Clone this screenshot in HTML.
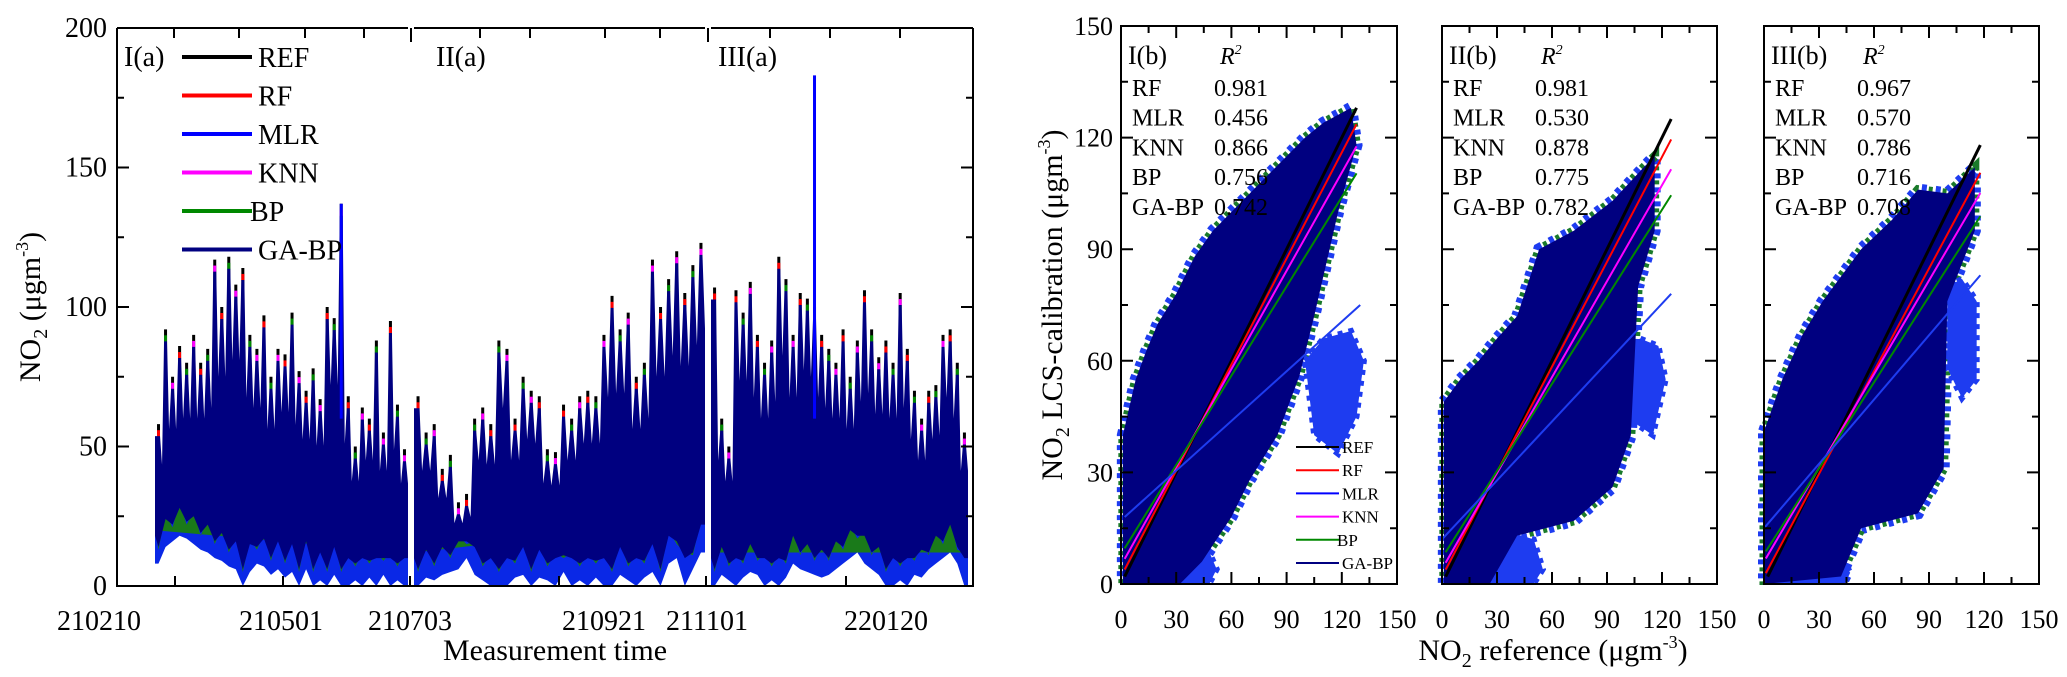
<!DOCTYPE html>
<html><head><meta charset="utf-8">
<style>
html,body{margin:0;padding:0;background:#fff;}
svg{display:block;}
svg text{font-family:"Liberation Serif",serif;}
</style></head>
<body>
<svg id="fig" width="2067" height="677" viewBox="0 0 2067 677" xmlns="http://www.w3.org/2000/svg" font-family="Liberation Serif, serif">
<g id="left"></g>
<g id="right"></g>
</svg>
<script>
// ===== Time series data (NO2, µg m-3), per-bin upper peaks (REF) and lower envelope =====
const seg1Peaks = [58,92,75,86,80,90,80,85,117,100,118,108,114,90,85,97,75,85,83,98,77,70,78,67,100,96,137,68,50,64,60,88,55,95,65,49];
const seg1Low   = [8,14,16,18,17,15,13,12,10,9,7,6,0,5,8,7,4,6,3,5,0,6,0,2,0,4,0,0,2,0,3,0,4,0,2,0];
const seg2Peaks = [68,55,58,42,47,30,33,60,64,58,88,85,60,75,70,68,49,48,65,60,68,70,68,90,104,92,98,75,80,117,100,110,120,105,115,123];
const seg2Low   = [0,3,2,4,5,6,10,4,2,0,0,0,3,4,0,3,2,0,5,0,2,0,3,0,0,4,2,0,3,5,0,8,10,0,6,12];
const seg3Peaks = [107,60,50,106,98,109,90,80,88,118,110,90,105,103,100,90,85,80,92,75,88,106,92,82,88,80,105,85,70,60,70,72,90,92,80,55];
const seg3Low   = [0,4,2,0,3,5,4,0,2,0,3,8,6,5,4,3,4,6,8,10,12,8,6,4,0,0,2,0,4,3,6,8,10,12,8,0];
const mlrSpikes = [[26,137,1],[14,183,3]]; // [bin, value, segment]
const yTicks = [0,50,100,150,200];
const xTickLabels = ["210210","210501","210703","210921","211101","220120"];
const xTickLabelPos = [99,281,410,604,707,886];
const legendNames = ["REF","RF","MLR","KNN","BP","GA-BP"];
const legendColors = ["#000","#f00","#00f","#f0f","#080","#000080"];

// ===== Scatter data per panel =====
const r2Models = ["RF","MLR","KNN","BP","GA-BP"];
const r2Panel1 = ["0.981","0.456","0.866","0.756","0.742"];
const r2Panel2 = ["0.981","0.530","0.878","0.775","0.782"];
const r2Panel3 = ["0.967","0.570","0.786","0.716","0.708"];
const blobUpper1 = [[1,40],[8,55],[14,63],[20,70],[30,78],[40,88],[50,95],[60,100],[70,105],[80,110],[90,115],[100,120],[110,124],[125,128]];
const blobLower1 = [[128,118],[118,100],[105,72],[97,56],[85,40],[70,28],[60,18],[44,6],[32,0],[1,0]];
const blobUpper2 = [[1,49],[10,55],[20,60],[30,66],[41,72],[53,90],[72,95],[93,103],[110,112],[116,115]];
const blobLower2 = [[116,95],[107,80],[103,40],[93,26],[72,17],[41,13],[26,0],[1,0]];
const blobUpper3 = [[0,41],[10,55],[21,67],[32,76],[53,90],[70,98],[84,106],[100,105],[115,112]];
const blobLower3 = [[115,95],[100,76],[98,31],[84,19],[53,15],[42,2],[0,0]];
const blueUpper1 = [[100,60],[110,66],[125,68],[132,60],[128,45],[118,35],[105,40]];
const blueLow1 = [[10,12],[25,15],[45,12],[52,4],[48,0],[12,0]];
const blueUpper2 = [[95,60],[108,66],[118,64],[122,55],[115,40],[100,45]];
const blueLow2 = [[15,12],[30,15],[50,12],[55,4],[50,0],[14,0]];
const blueUpper3 = [[100,80],[108,82],[116,76],[116,55],[108,50],[100,58]];
const blueLow3 = [[5,10],[20,12],[40,10],[47,3],[44,0],[5,0]];
const refMax = [128,125,118];
const rfLine = [[2,2,0.95],[2,2,0.94],[1,2,0.92]]; // [xStart, intercept, slope]
const knnLine = [[2,5,0.88],[2,4,0.86],[1,6,0.84]];
const bpLine = [[2,8,0.8],[2,7,0.78],[1,8,0.77]];
const mlrLine = [[2,18,130,75],[0,12,125,78],[0,15,118,83]];

const NS="http://www.w3.org/2000/svg";
function mk(tag,attrs,parent){const e=document.createElementNS(NS,tag);for(const k in attrs)e.setAttribute(k,attrs[k]);parent.appendChild(e);return e;}
function txt(parent,x,y,s,size,anchor){const t=mk('text',{x:x,y:y,'font-size':size,'text-anchor':anchor||'start','font-family':'Liberation Serif, serif'},parent);t.textContent=s;return t;}

// ---------- LEFT CHART ----------
const L=document.getElementById('left');
const X0=117,X1=973,Y0=586,Y1=28;
const yS=v=>Y0-(v/200)*(Y0-Y1);
const segs=[{p:seg1Peaks,l:seg1Low,a:155,b:408},{p:seg2Peaks,l:seg2Low,a:414,b:705},{p:seg3Peaks,l:seg3Low,a:711,b:968}];
segs.forEach((s,si)=>{
  const n=s.p.length,w=(s.b-s.a)/n;
  const xs=i=>s.a+w*(i+0.5);
  // colored under-band (blue/green)
  let band=`M${s.a},${yS(s.l[0]+14)} `;
  for(let i=0;i<n;i++)band+=`L${xs(i)},${yS(s.l[i]+14)} `;
  band+=`L${s.b},${yS(s.l[n-1]+14)} L${s.b},${yS(s.l[n-1])} `;
  for(let i=n-1;i>=0;i--)band+=`L${xs(i)},${yS(s.l[i])} `;
  band+=`L${s.a},${yS(s.l[0])} Z`;
  const bb=mk('path',{d:band,fill:'#0a28e6'},L);
  
  
  let band2=`M${s.a},${yS(s.l[0]+12)} `;
  for(let i=0;i<n;i++)band2+=`L${xs(i)},${yS(s.l[i]+(i%2?12:5))} `;
  band2+=`L${s.b},${yS(s.l[n-1]+12)} Z`;
  const bg=mk('path',{d:band2,fill:'#1a7a1a'},L);
  
  
  for(let i=0;i<n;i++){
    const ln=mk('line',{x1:xs(i),x2:xs(i),y1:yS(s.l[i]+15),y2:yS(s.p[i]),stroke:'#000','stroke-width':3},L);
    
    
    const rf=mk('line',{x1:xs(i),x2:xs(i),y1:yS(s.p[i])+6,y2:yS(s.p[i])+13,stroke:(i%3==0?'#f00':(i%3==1?'#080':'#f0f')),'stroke-width':3},L);
    
    
  }
  let d=`M${s.a},${yS(s.l[0]+10)} L${s.a},${yS(s.p[0])+12} `;
  for(let i=0;i<n;i++){
    d+=`L${xs(i)-1.5},${yS(s.p[i])+12} L${xs(i)+1.5},${yS(s.p[i])+12} `;
    const nx=i<n-1?Math.min(s.p[i],s.p[i+1]):s.p[i];
    d+=`L${xs(i)+w/2},${yS(nx*0.75)} `;
  }
  d+=`L${s.b},${yS(s.l[n-1]+10)} `;
  for(let i=n-1;i>=0;i--)d+=`L${xs(i)},${yS(s.l[i]+(i%2?10:6))} `;
  d+='Z';
  const body=mk('path',{d:d,fill:'#000080'},L);
  
  
});
mlrSpikes.forEach(sp=>{
  const s=segs[sp[2]-1],n=s.p.length,w=(s.b-s.a)/n,x=s.a+w*(sp[0]+0.5);
  const l=mk('line',{x1:x,x2:x,y1:yS(60),y2:yS(sp[1]),stroke:'#00f','stroke-width':3},L);
  
  
});
const fr=mk('path',{d:`M${X0},${Y1} V${Y0} H${X1} V${Y1} M${X0},${Y1} H408 M414,${Y1} H705 M711,${Y1} H${X1} M411,${Y1} v14 M708,${Y1} v14`,fill:'none',stroke:'#000','stroke-width':2},L);


for(let v=0;v<=200;v+=25){
  const y=yS(v),len=(v%50==0)?12:7;
  const t=mk('path',{d:`M${X0},${y} h${len} M${X1},${y} h-${len}`,stroke:'#000','stroke-width':2},L);
  
  
}
yTicks.forEach(v=>{const t=txt(L,X0-10,yS(v)+9,String(v),28,'end');});
[175,283,410,559,706,846].forEach(x=>{
  const t=mk('path',{d:`M${x},${Y0} v-10`,stroke:'#000','stroke-width':2},L);
  
  
});
[174,239,305,364,480,530,605,660,770,830,900].forEach(x=>{
  const t=mk('path',{d:`M${x},${Y1} v10`,stroke:'#000','stroke-width':2},L);
  
  
});
xTickLabels.forEach((s,i)=>{const t=txt(L,xTickLabelPos[i],630,s,28,'middle');});
const xt=txt(L,555,660,'Measurement time',30,'middle');


const yt=mk('text',{x:0,y:0,'font-size':30,'text-anchor':'middle','font-family':'Liberation Serif, serif',transform:'translate(40,307) rotate(-90)'},L);
yt.innerHTML='NO<tspan font-size="20" dy="7">2</tspan><tspan dy="-7"> (μgm</tspan><tspan font-size="18" dy="-12">-3</tspan><tspan dy="12">)</tspan>';


[['I(a)',124],['II(a)',436],['III(a)',718]].forEach(a=>{const t=txt(L,a[1],66,a[0],28);});
legendNames.forEach((nm,i)=>{
  const y=57+i*38.5;
  const g=mk('g',{},L);
  
  
  mk('line',{x1:182,x2:252,y1:y,y2:y,stroke:legendColors[i],'stroke-width':4},g);
  txt(g,nm=='BP'?250:258,y+10,nm,28);
});

// ---------- RIGHT SCATTER PANELS ----------
const R=document.getElementById('right');
const PY0=584,PY1=26;
const panels=[{a:1121,b:1397,blobU:blobUpper1,blobL:blobLower1,bu:blueUpper1,bl:blueLow1,r2:r2Panel1,lab:'I(b)'},
              {a:1442,b:1717,blobU:blobUpper2,blobL:blobLower2,bu:blueUpper2,bl:blueLow2,r2:r2Panel2,lab:'II(b)'},
              {a:1764,b:2039,blobU:blobUpper3,blobL:blobLower3,bu:blueUpper3,bl:blueLow3,r2:r2Panel3,lab:'III(b)'}];
panels.forEach((P,pi)=>{
  const g=mk('g',{},R);
  
  
  const sx=v=>P.a+(v/150)*(P.b-P.a), sy=v=>PY0-(v/150)*(PY0-PY1);
  const poly=(arr,fill,name)=>{const p=mk('polygon',{points:arr.map(q=>sx(q[0])+','+sy(q[1])).join(' '),fill:fill},g);return p;};
  const outline=P.blobU.concat(P.blobL);
  const h1=poly(outline,'none','mlr-scatter-halo');
  h1.setAttribute('stroke','#1e3cf0');h1.setAttribute('stroke-width','12');h1.setAttribute('stroke-dasharray','5 9');
  const h2=poly(outline,'none','bp-scatter-halo');
  h2.setAttribute('stroke','#1a7a2a');h2.setAttribute('stroke-width','9');h2.setAttribute('stroke-dasharray','4 10');h2.setAttribute('stroke-dashoffset','7');
  const bu=poly(P.bu,'#1e3cf0','mlr-outlier-cluster');
  bu.setAttribute('stroke','#1e3cf0');bu.setAttribute('stroke-width','6');bu.setAttribute('stroke-dasharray','5 6');
  const bl=poly(P.bl,'#1e3cf0','mlr-low-cluster');
  bl.setAttribute('stroke','#1e3cf0');bl.setAttribute('stroke-width','6');bl.setAttribute('stroke-dasharray','5 6');
  poly(outline,'#000080','gabp-scatter-cloud');
  const rm=refMax[pi];
  const line=(x1,y1,x2,y2,c,w,name)=>{const l=mk('line',{x1:sx(x1),y1:sy(y1),x2:sx(x2),y2:sy(y2),stroke:c,'stroke-width':w},g);};
  line(2,2,rm,rm,'#000',3,'ref-fit-line');
  const rf=rfLine[pi],kn=knnLine[pi],bp=bpLine[pi],ml=mlrLine[pi];
  line(rf[0],rf[1]+rf[2]*rf[0],rm,rf[1]+rf[2]*rm,'#f00',2,'rf-fit-line');
  line(kn[0],kn[1]+kn[2]*kn[0],rm,kn[1]+kn[2]*rm,'#f0f',2,'knn-fit-line');
  line(bp[0],bp[1]+bp[2]*bp[0],rm,bp[1]+bp[2]*rm,'#080',2,'bp-fit-line');
  line(ml[0],ml[1],ml[2],ml[3],'#1e3cf0',2,'mlr-fit-line');
  const cover=mk('rect',{x:P.a-30,y:PY0+1,width:P.b-P.a+60,height:15,fill:'#fff'},g);
  
  
  const f=mk('rect',{x:P.a,y:PY1,width:P.b-P.a,height:PY0-PY1,fill:'none',stroke:'#000','stroke-width':2},g);
  
  
  let d='';
  for(let v=0;v<=150;v+=15){const y=sy(v),len=v%30==0?12:7;d+=`M${P.a},${y} h${len} M${P.b},${y} h-${len} `;const x=sx(v);d+=`M${x},${PY0} v-${len} M${x},${PY1} v${len} `;}
  const tk=mk('path',{d:d,stroke:'#000','stroke-width':2,fill:'none'},g);
  
  
  for(let v=0;v<=150;v+=30){const t=txt(g,sx(v),628,String(v),26,'middle');}
  if(pi==0){for(let v=0;v<=150;v+=30){const t=txt(g,P.a-8,sy(v)+9,String(v),26,'end');}}
  const lt=txt(g,P.a+7,64,P.lab,26);
  const rh=mk('text',{x:P.a+99,y:64,'font-size':24,'font-style':'italic','font-family':'Liberation Serif, serif'},g);
  rh.innerHTML='R<tspan font-size="14" dy="-10">2</tspan>';
  
  
  r2Models.forEach((m,i)=>{
    const y=96+i*29.7;
    const a=txt(g,P.a+11,y,m,24);
    const b=txt(g,P.a+93,y,P.r2[i],24);
  });
  if(pi==0){
    legendNames.forEach((nm,i)=>{
      const y=447+i*23.2;
      const e=mk('g',{},g);
      
      
      mk('line',{x1:1296,x2:1339,y1:y,y2:y,stroke:legendColors[i],'stroke-width':2},e);
      txt(e,nm=='BP'?1337:1342,y+6,nm,17);
    });
  }
});
const rx=mk('text',{x:1553,y:660,'font-size':30,'text-anchor':'middle','font-family':'Liberation Serif, serif'},R);
rx.innerHTML='NO<tspan font-size="20" dy="7">2</tspan><tspan dy="-7"> reference (μgm</tspan><tspan font-size="18" dy="-12">-3</tspan><tspan dy="12">)</tspan>';


const ry=mk('text',{x:0,y:0,'font-size':30,'text-anchor':'middle','font-family':'Liberation Serif, serif',transform:'translate(1062,305) rotate(-90)'},R);
ry.innerHTML='NO<tspan font-size="20" dy="7">2</tspan><tspan dy="-7"> LCS-calibration (μgm</tspan><tspan font-size="18" dy="-12">-3</tspan><tspan dy="12">)</tspan>';


</script>
</body></html>
